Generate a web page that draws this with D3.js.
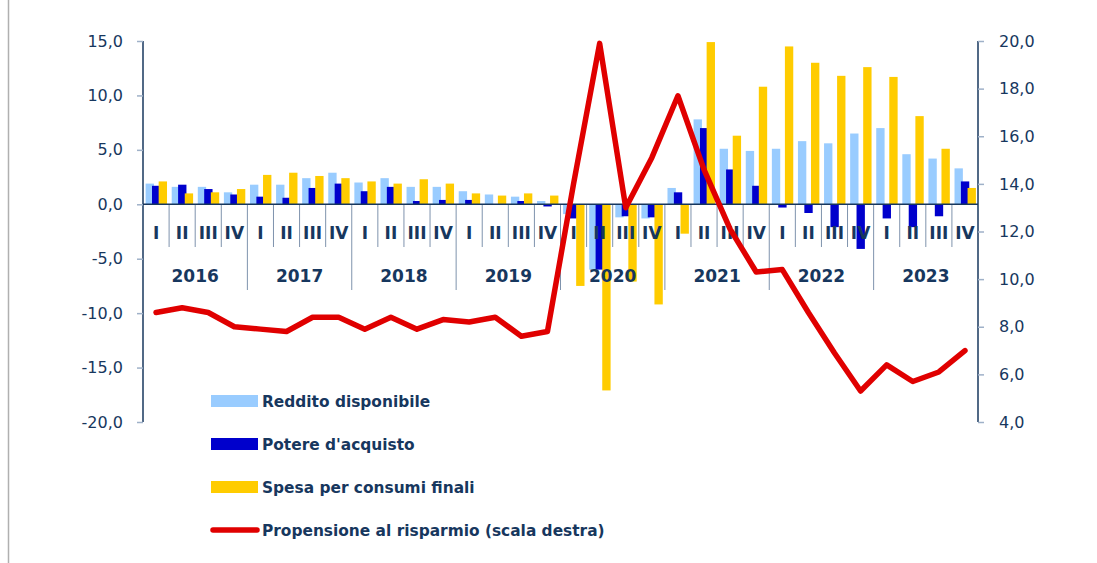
<!DOCTYPE html>
<html>
<head>
<meta charset="utf-8">
<script src="https://cdn.jsdelivr.net/npm/d3@7"></script>
<style>
  body { margin: 0; background: #fff; }
  text { font-family: "DejaVu Sans", Verdana, sans-serif; fill: #17375e; }
</style>
</head>
<body>
<div id="viz"></div>
<script>
// categories
var quarters = ["I", "II", "III", "IV"];
var years = ["2016", "2017", "2018", "2019", "2020", "2021", "2022", "2023"];

// series (variazioni %, scala sinistra)
var reddito = [1.9, 1.6, 1.6, 1.1, 1.8, 1.8, 2.4, 2.9, 2.0, 2.4, 1.6, 1.6, 1.2, 0.9, 0.7, 0.3,
               -0.9, -6.0, -1.2, -1.3, 1.5, 7.8, 5.1, 4.9, 5.1, 5.8, 5.6, 6.5, 7.0, 4.6, 4.2, 3.3];
var potere = [1.7, 1.8, 1.4, 0.9, 0.7, 0.6, 1.5, 1.9, 1.2, 1.6, 0.3, 0.4, 0.4, 0.0, 0.3, -0.2,
              -1.3, -6.0, -1.1, -1.2, 1.1, 7.0, 3.2, 1.7, -0.3, -0.8, -2.1, -4.1, -1.3, -2.1, -1.1, 2.1];
var spesa = [2.1, 1.0, 1.1, 1.4, 2.7, 2.9, 2.6, 2.4, 2.1, 1.9, 2.3, 1.9, 1.0, 0.8, 1.0, 0.8,
             -7.5, -17.1, -7.1, -9.2, -2.7, 14.9, 6.3, 10.8, 14.5, 13.0, 11.8, 12.6, 11.7, 8.1, 5.1, 1.5];
// propensione al risparmio (scala destra)
var propensione = [8.6, 8.8, 8.6, 8.0, 7.9, 7.8, 8.4, 8.4, 7.9, 8.4, 7.9, 8.3, 8.2, 8.4, 7.6, 7.8,
                   14.0, 19.9, 13.0, 15.1, 17.7, 14.6, 12.1, 10.3, 10.4, 8.6, 6.9, 5.3, 6.4, 5.7, 6.1, 7.0];

// tick values
var leftTicks = [-20, -15, -10, -5, 0, 5, 10, 15];
var rightTicks = [4, 6, 8, 10, 12, 14, 16, 18, 20];

var legendLabels = ["Reddito disponibile", "Potere d'acquisto", "Spesa per consumi finali",
                    "Propensione al risparmio (scala destra)"];

var width = 1097, height = 563;
var navy = "#17375e", tickCol = "#9fb1c8", sepCol = "#7f93ad";
var colors = ["#99ccff", "#0000cc", "#ffcc00"];
var red = "#e00000";

var svg = d3.select("#viz")
  .append("svg")
  .attr("width", width)
  .attr("height", height);

// frame line on the left
svg.append("line")
  .attr("x1", 8.5).attr("x2", 8.5).attr("y1", 0).attr("y2", height)
  .attr("stroke", "#b0b0b0").attr("stroke-width", 1.5);

// categories: one per quarter
var cats = [];
years.forEach(y => quarters.forEach(q => cats.push({ year: y, q: q })));

var x = d3.scaleBand().domain(d3.range(cats.length)).range([143, 978]).padding(0);
var yL = d3.scaleLinear().domain([-20, 15]).range([422, 41]);
var yR = d3.scaleLinear().domain([4, 20]).range([422, 41]);
var bw = x.bandwidth();

var fmt = d => d.toFixed(1).replace(".", ",");

// bars: light, dark, yellow (slightly overlapping)
var series = [reddito, potere, spesa];
var offsets = [-0.4, -0.155, 0.1];
series.forEach((vals, s) => {
  svg.append("g")
    .selectAll("rect")
    .data(vals)
    .enter()
    .append("rect")
    .attr("x", (d, i) => x(i) + bw / 2 + offsets[s] * bw)
    .attr("width", bw * 0.32)
    .attr("y", d => yL(Math.max(0, d)))
    .attr("height", d => Math.abs(yL(d) - yL(0)))
    .attr("fill", colors[s]);
});

// left axis
var gL = svg.append("g")
  .attr("transform", "translate(143,0)")
  .call(d3.axisLeft(yL).tickValues(leftTicks).tickFormat(fmt).tickSize(6).tickPadding(14));
gL.select(".domain").attr("stroke", navy).attr("stroke-width", 1.5).attr("d", "M0," + yL(-20) + "V" + yL(15));
gL.selectAll(".tick line").attr("stroke", tickCol).attr("stroke-width", 1.5);
gL.selectAll(".tick text").style("font-size", "16px").attr("fill", navy);

// right axis
var gR = svg.append("g")
  .attr("transform", "translate(978,0)")
  .call(d3.axisRight(yR).tickValues(rightTicks).tickFormat(fmt).tickSize(6).tickPadding(15));
gR.select(".domain").attr("stroke", navy).attr("stroke-width", 1.5).attr("d", "M0," + yR(4) + "V" + yR(20));
gR.selectAll(".tick line").attr("stroke", tickCol).attr("stroke-width", 1.5);
gR.selectAll(".tick text").style("font-size", "16px").attr("fill", navy);

// category separators: short between quarters, long between years
var y0 = yL(0);
svg.append("g")
  .selectAll("line")
  .data(d3.range(1, cats.length))
  .enter()
  .append("line")
  .attr("x1", i => x(i)).attr("x2", i => x(i))
  .attr("y1", y0)
  .attr("y2", i => i % 4 === 0 ? 290 : 247)
  .attr("stroke", sepCol).attr("stroke-width", 1);

// zero line
svg.append("line")
  .attr("x1", 143).attr("x2", 978).attr("y1", y0).attr("y2", y0)
  .attr("stroke", navy).attr("stroke-width", 1.5);

// quarter labels
svg.append("g")
  .selectAll("text")
  .data(cats)
  .enter()
  .append("text")
  .attr("x", (d, i) => x(i) + bw / 2)
  .attr("y", 239)
  .attr("text-anchor", "middle")
  .style("font-size", "17px")
  .style("font-weight", "bold")
  .text(d => d.q);

// year labels
svg.append("g")
  .selectAll("text")
  .data(years)
  .enter()
  .append("text")
  .attr("x", (d, i) => x(i * 4) + bw * 2)
  .attr("y", 282)
  .attr("text-anchor", "middle")
  .style("font-size", "17px")
  .style("font-weight", "bold")
  .text(d => d);

// savings ratio line
var line = d3.line()
  .x((d, i) => x(i) + bw / 2)
  .y(d => yR(d));

svg.append("path")
  .datum(propensione)
  .attr("fill", "none")
  .attr("stroke", red)
  .attr("stroke-width", 5.5)
  .attr("stroke-linejoin", "round")
  .attr("stroke-linecap", "round")
  .attr("d", line);

// legend
var legend = svg.append("g");
var rowY = [401, 444, 487, 530];
legendLabels.forEach((lab, i) => {
  if (i < 3) {
    legend.append("rect")
      .attr("x", 211).attr("y", rowY[i] - 6)
      .attr("width", 47).attr("height", 12)
      .attr("fill", colors[i]);
  } else {
    legend.append("line")
      .attr("x1", 213).attr("x2", 257).attr("y1", rowY[i]).attr("y2", rowY[i])
      .attr("stroke", red).attr("stroke-width", 5.5).attr("stroke-linecap", "round");
  }
  legend.append("text")
    .attr("x", 262).attr("y", rowY[i] + 6)
    .style("font-size", "15.4px")
    .style("font-weight", "bold")
    .text(lab);
});
</script>
</body>
</html>
